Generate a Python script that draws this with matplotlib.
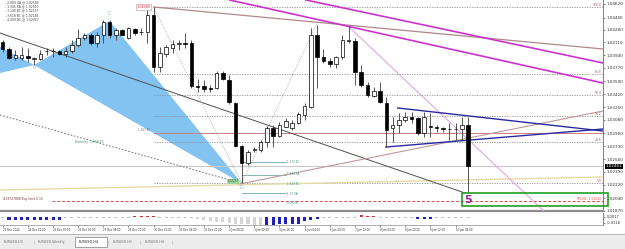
import numpy as np
import matplotlib.pyplot as plt
from matplotlib.patches import Rectangle, Polygon

# EURUSD H4 candles, bar 0 = 23 Dec 2024
opens = [1.04115, 1.04028, 1.03902, 1.03896, 1.03929, 1.03889, 1.03889, 1.03989, 1.03989, 1.03995,
         1.03955, 1.03995, 1.04075, 1.04168, 1.04208, 1.04106, 1.04208, 1.04381, 1.04208, 1.04274,
         1.04168, 1.04281, 1.04248, 1.04252, 1.04474, 1.03787, 1.03955, 1.04039, 1.04092, 1.04106,
         1.04098, 1.03530, 1.03530, 1.03499, 1.03499, 1.03707, 1.03610, 1.03308, 1.02733, 1.02503,
         1.02679, 1.02679, 1.02790, 1.02968, 1.02866, 1.02989, 1.02968, 1.03042, 1.03145, 1.03255,
         1.04208, 1.03919, 1.03866, 1.03822, 1.03911, 1.04132, 1.04132, 1.03720, 1.03543, 1.03401,
         1.03468, 1.03308, 1.02968, 1.03012, 1.03078, 1.03122, 1.03101, 1.02901, 1.02998, 1.02981,
         1.02968, 1.02963, 1.02959, 1.02955, 1.03012]
highs = [1.04141, 1.04055, 1.04008, 1.04048, 1.04035, 1.03915, 1.04008, 1.04035, 1.04035, 1.04008,
         1.04052, 1.04141, 1.04288, 1.04234, 1.04234, 1.04252, 1.04407, 1.04407, 1.04301, 1.04281,
         1.04318, 1.04305, 1.04301, 1.04549, 1.04580, 1.04052, 1.04075, 1.04141, 1.04141, 1.04234,
         1.04141, 1.03623, 1.03610, 1.03543, 1.03733, 1.03733, 1.03676, 1.03321, 1.02746, 1.02679,
         1.02723, 1.02812, 1.02998, 1.03012, 1.03056, 1.03101, 1.03078, 1.03189, 1.03300, 1.04297,
         1.04341, 1.04018, 1.03898, 1.03929, 1.04208, 1.04331, 1.04164, 1.03809, 1.03587, 1.03513,
         1.03587, 1.03388, 1.03122, 1.03167, 1.03189, 1.03189, 1.03122, 1.03189, 1.03167, 1.03012,
         1.02989, 1.03034, 1.03034, 1.03122, 1.03122]
lows = [1.03982, 1.03889, 1.03876, 1.03882, 1.03849, 1.03809, 1.03876, 1.03942, 1.03915, 1.03942,
        1.03915, 1.03969, 1.04048, 1.04141, 1.04075, 1.04052, 1.04102, 1.04168, 1.04141, 1.04208,
        1.04155, 1.04208, 1.04208, 1.04102, 1.03716, 1.03720, 1.03919, 1.03969, 1.04008, 1.04035,
        1.03503, 1.03450, 1.03454, 1.03454, 1.03486, 1.03610, 1.03291, 1.02723, 1.02237, 1.02480,
        1.02653, 1.02657, 1.02723, 1.02723, 1.02848, 1.02981, 1.02945, 1.03025, 1.03078, 1.03234,
        1.03499, 1.03832, 1.03787, 1.03765, 1.03885, 1.04102, 1.03543, 1.03521, 1.03388, 1.03388,
        1.03300, 1.02723, 1.02790, 1.02901, 1.03056, 1.03034, 1.02879, 1.02856, 1.02856, 1.02923,
        1.02923, 1.02812, 1.02812, 1.02812, 1.02108]
closes = [1.04022, 1.03902, 1.03942, 1.03942, 1.03896, 1.03902, 1.03955, 1.03995, 1.03995, 1.03955,
          1.03999, 1.04075, 1.04168, 1.04214, 1.04102, 1.04208, 1.04385, 1.04208, 1.04274, 1.04208,
          1.04301, 1.04234, 1.04244, 1.04474, 1.03787, 1.03965, 1.04052, 1.04084, 1.04102, 1.04088,
          1.03530, 1.03523, 1.03490, 1.03490, 1.03699, 1.03619, 1.03321, 1.02733, 1.02503, 1.02657,
          1.02689, 1.02790, 1.02968, 1.02866, 1.03012, 1.03069, 1.03042, 1.03158, 1.03264, 1.04208,
          1.03919, 1.03866, 1.03822, 1.03911, 1.04141, 1.04141, 1.03720, 1.03543, 1.03410, 1.03468,
          1.03321, 1.02945, 1.03012, 1.03078, 1.03122, 1.03091, 1.02901, 1.03122, 1.02981, 1.02972,
          1.02955, 1.02959, 1.02963, 1.03012, 1.02463]

# indicator histogram (sub window)
ind_vals = [-0.0010, -0.0050, -0.0050, -0.0050, -0.0050, -0.0050, -0.0050, -0.0050, -0.0050, -0.0050,
            -0.0010, -0.0010, -0.0010, -0.0010, -0.0010, -0.0010, -0.0010, -0.0010, -0.0010, -0.0010,
            -0.0010, 0.0030, 0.0035, 0.0035, 0.0030, -0.0012, -0.0012, -0.0012, -0.0012, -0.0012,
            -0.0012, -0.0040, -0.0060, -0.0080, -0.0090, -0.0100, -0.0120, -0.0135, -0.0150, -0.0150,
            -0.0155, -0.0155, -0.0155, -0.0155, -0.0150, -0.0150, -0.0140, -0.0130, -0.0080, -0.0060,
            -0.0040, -0.0012, -0.0012, -0.0012, -0.0012, -0.0012, -0.0012, 0.0045, 0.0030, 0.0025,
            -0.0012, -0.0012, -0.0012, -0.0012, -0.0012, -0.0012, -0.0040, -0.0040, -0.0040, -0.0012,
            -0.0012, -0.0012, -0.0012, -0.0012, -0.0012]
ind_kind = ['g'] + ['b'] * 9 + ['g'] * 11 + ['r'] * 4 + ['g'] * 6 + ['l'] * 11 + ['b'] * 9 \
           + ['g'] * 6 + ['r'] * 3 + ['g'] * 6 + ['b'] * 3 + ['g'] * 6

price_ticks = [1.04620, 1.04440, 1.04280, 1.04110, 1.03940, 1.03770, 1.03590, 1.03420, 1.03250,
               1.03080, 1.02900, 1.02730, 1.02560, 1.02390, 1.02220, 1.02040, 1.01870]
time_ticks = [0, 4, 8, 12, 16, 20, 24, 28, 32, 36, 40, 44, 48, 52, 56, 60, 64, 68, 72]
time_labels = ['23 Dec 2024', '24 Dec 12:00', '26 Dec 00:00', '26 Dec 16:00', '27 Dec 08:00',
               '29 Dec 20:00', '30 Dec 12:00', '31 Dec 04:00', '31 Dec 20:00', '2 Jan 08:00',
               '3 Jan 00:00', '3 Jan 16:00', '6 Jan 04:00', '6 Jan 20:00', '7 Jan 12:00',
               '8 Jan 04:00', '8 Jan 20:00', '9 Jan 12:00', '10 Jan 04:00']

# butterfly X A B C D (bar, price)
pat_bar = [-6.8, -2.8, 5, 17, 38]
pat_price = [1.03578, 1.04155, 1.03809, 1.04394, 1.02237]

# fibonacci from swing high to D
fib_start = 24
fib_hi, fib_lo = 1.04580, 1.02237
fib_levels = [0.0, 23.6, 38.2, 50.0, 61.8, 100.0]

# trend lines: (bars, prices)
tl_gray = ([-0.43, 73.5], [1.04234, 1.02108])
tl_dash = ([-0.43, 38], [1.03145, 1.02237])
tl_zz1 = ([24, 38], [1.04580, 1.02237])
tl_zz2 = ([38, 50], [1.02237, 1.04367])
tl_pink = ([54.9, 86.2], [1.04327, 1.01855])
tl_brown = ([24, 95.44], [1.04580, 1.04022])
tl_mag1 = ([48.2, 95.44], [1.04673, 1.03836])
tl_mag2 = ([36.1, 95.44], [1.04673, 1.03570])
tl_tri_up = ([62.8, 95.44], [1.03238, 1.02932])
tl_tri_lo = ([60.9, 95.44], [1.02719, 1.02959])
tl_rise = ([37.7, 95.44], [1.02228, 1.03198])
tl_pale = ([-0.43, 95.44], [1.02148, 1.02321])

level_red = 1.02905
order_price = 1.02008
proj_prices = [1.02520, 1.02347, 1.02108]
proj_text = [(1.02520, '1.272 BC'), (1.02360, '1.414 XA'), (1.02228, '1.618 BC'),
             (1.02095, '1.27 XA'), (1.01975, '4.000 BC')]
zone_bars = [73.0, 96.2]
zone_prices = [1.01935, 1.02104]

W, H = 625, 249
fig = plt.figure(figsize=(6.25, 2.49), dpi=100)
ax = fig.add_axes([0, 38 / H, 603 / W, 211 / H])
ax.set_xlim(-0.43, 95.44)
ax.set_ylim(1.01869, 1.04673)

x = np.arange(len(opens))
o, hi, lo, c = map(np.array, (opens, highs, lows, closes))

# pattern fill
ax.add_patch(Polygon(list(zip(pat_bar[:3], pat_price[:3])), closed=True, fc='#82c3f2', ec='none', zorder=1))
ax.add_patch(Polygon(list(zip(pat_bar[2:], pat_price[2:])), closed=True, fc='#82c3f2', ec='none', zorder=1))

# fib levels
for r in fib_levels:
    p = fib_lo + r / 100 * (fib_hi - fib_lo)
    ax.plot([fib_start, 95.44], [p, p], color='#909090', lw=0.6, ls=(0, (1.5, 1.5)), zorder=2)
    ax.text(95.2, p, '%.1f' % r, fontsize=2.2, color='#b05050', ha='right', va='bottom', zorder=6)

ax.plot([fib_start, 95.44], [level_red, level_red], color='#c88080', lw=0.7, zorder=2)
ax.axhline(closes[-1], color='#c8c8c8', lw=0.8, zorder=2)
ax.plot([7.8, 95.44], [order_price, order_price], color='#e04848', lw=0.7, ls=(0, (3, 2)), zorder=2)
for p in proj_prices:
    ax.plot([38, 45], [p, p], color='#70a8a8', lw=0.6, zorder=2)

ax.plot(*tl_pale, color='#e6dca6', lw=1.0, zorder=2)
ax.plot(*tl_gray, color='#505050', lw=0.7, zorder=3)
ax.plot(*tl_dash, color='#606060', lw=0.6, ls=(0, (2, 2)), zorder=3)
ax.plot(*tl_zz1, color='#a0a0a0', lw=0.6, ls=(0, (1, 1.5)), zorder=3)
ax.plot(*tl_zz2, color='#a0a0a0', lw=0.6, ls=(0, (1, 1.5)), zorder=3)
ax.plot(*tl_pink, color='#e0a6e0', lw=0.8, zorder=3)
ax.plot(*tl_brown, color='#b08888', lw=0.9, zorder=3)
ax.plot(*tl_mag1, color='#cc33cc', lw=1.2, zorder=3)
ax.plot(*tl_mag2, color='#cc33cc', lw=1.2, zorder=3)
ax.plot(*tl_rise, color='#c09898', lw=0.8, zorder=3)
ax.plot(*tl_tri_up, color='#2a2aa0', lw=1.0, zorder=3)
ax.plot(*tl_tri_lo, color='#2a2aa0', lw=1.0, zorder=3)

# candles
up = c >= o
ax.vlines(x, lo, hi, color='#3a3a3a', lw=0.6, zorder=4)
bottom = np.minimum(o, c)
height = np.maximum(np.abs(c - o), 0.00003)
ax.bar(x[up], height[up], bottom=bottom[up], width=0.56, color='white', edgecolor='black', lw=0.5, zorder=5)
ax.bar(x[~up], height[~up], bottom=bottom[~up], width=0.56, color='black', edgecolor='black', lw=0.5, zorder=5)

# zone + wave label
ax.add_patch(Rectangle((zone_bars[0], zone_prices[0]), zone_bars[1] - zone_bars[0],
                       zone_prices[1] - zone_prices[0], fill=False, ec='#22a022', lw=1.2,
                       clip_on=False, zorder=6))
ax.text(74, 1.02018, '5', fontsize=8, color='#a02890', ha='center', va='center', fontweight='bold', zorder=7)

# labels
lbl_col = '#8cb8e0'
ax.text(pat_bar[2], pat_price[2] - 0.00035, 'B', fontsize=3.5, color=lbl_col, ha='center', va='center', zorder=6)
ax.text(pat_bar[3], pat_price[3] + 0.00105, 'C', fontsize=3.5, color=lbl_col, ha='center', va='center', zorder=6)
ax.text(pat_bar[4], pat_price[4] - 0.00060, 'D', fontsize=3.5, color=lbl_col, ha='center', va='center', zorder=6)
ax.text(pat_bar[4] - 0.5, pat_price[4], '1.02237', fontsize=2, color='#306030', ha='right', va='bottom',
        bbox=dict(fc='#9ad49a', ec='none', pad=0.3), zorder=6)
ax.text(22.4, fib_hi, '1.04580', fontsize=2.4, color='#c03040', ha='center', va='center',
        bbox=dict(fc='white', ec='#e0a0b0', lw=0.5, pad=0.4), zorder=6)
ax.text(23.5, level_red + 0.0001, '1.617 BC', fontsize=2, color='#606060', ha='right', va='bottom', zorder=6)
ax.text(11.5, 1.02780, 'Butterfly - 3368.03', fontsize=2.2, color='#40a060', ha='left', va='center', zorder=6)
for p, t in proj_text:
    ax.text(45.2, p, t, fontsize=2, color='#508888', ha='left', va='center', zorder=6)
ax.text(0.0, order_price + 0.0002, '#19727888 Buy limit 0.10', fontsize=2.2, color='#703838', ha='left', va='center', zorder=6)
ax.text(95.2, order_price + 0.0002, 'TP1,ML: 1.02040', fontsize=2.2, color='#e05050', ha='right', va='center', zorder=6)

tl_text = ['- 2.000 XA @ 1.02580', '- 1.345 XA @ 1.02510', '- 3.140 BC @ 1.02137',
           '- 3.618 BC @ 1.02148', '- 4.000 BC @ 1.02057']
for i, t in enumerate(tl_text):
    fig.text(5 / W, 1 - (2.0 + 4.4 * i) / H, t, fontsize=2.2, color='#404040', va='center')

# price axis
ax.yaxis.tick_right()
ax.set_yticks(price_ticks)
ax.set_yticklabels(['%.5f' % p for p in price_ticks])
ax.tick_params(axis='y', labelsize=3, length=1.5, width=0.4, pad=1.2, colors='#303030')
ax.set_xticks([])
for s in ['left', 'top']:
    ax.spines[s].set_visible(False)
ax.spines['right'].set_color('#808080')
ax.spines['right'].set_linewidth(0.7)
ax.spines['bottom'].set_color('#8c8c8c')
ax.spines['bottom'].set_linewidth(1.6)
ax.text(1.004, closes[-1], '%.5f' % closes[-1], transform=ax.get_yaxis_transform(), fontsize=3,
        color='white', ha='left', va='center', bbox=dict(fc='black', ec='none', pad=0.4), clip_on=False, zorder=8)

# indicator window
axi = fig.add_axes([0, 24 / H, 603 / W, 12 / H])
axi.set_xlim(-0.43, 95.44)
axi.set_ylim(-0.0161, 0.00965)
kind_col = {'b': '#2020c0', 'g': '#c4c4c4', 'r': '#d03030', 'l': '#d6d6d6'}
axi.bar(x, ind_vals, width=0.48, color=[kind_col[k] for k in ind_kind], lw=0)
axi.yaxis.tick_right()
axi.set_yticks([0.0017, -0.0118])
axi.set_yticklabels(['0.0017', '-0.0118'])
axi.tick_params(axis='y', labelsize=2.6, length=1.2, width=0.4, pad=1.2, colors='#303030')
axi.set_xticks(time_ticks)
axi.set_xticklabels(time_labels, ha='left')
axi.tick_params(axis='x', labelsize=1.9, length=1.5, width=0.4, pad=0.6, colors='#303030')
for s in ['left', 'top']:
    axi.spines[s].set_visible(False)
axi.spines['right'].set_color('#808080')
axi.spines['right'].set_linewidth(0.7)
axi.spines['bottom'].set_color('#a0a0a0')
axi.spines['bottom'].set_linewidth(0.6)

# tab bar
fig.patches.append(Rectangle((0, 0), 1, 15 / H, transform=fig.transFigure, fc='#ececec', ec='none', zorder=0))
fig.lines.append(plt.Line2D([0, 1], [15 / H, 15 / H], transform=fig.transFigure, color='#b0b0b0', lw=0.6))
fig.patches.append(Rectangle((75 / W, 2 / H), 32 / W, 10 / H, transform=fig.transFigure, fc='white',
                             ec='#808080', lw=0.5, zorder=1))
tabs = [(4, 'EURUSD,H1'), (38, 'EURUSD,Weekly'), (79, 'EURUSD,H4'), (113, 'EURUSD,H1'), (145, 'EURUSD,H4')]
for tx, t in tabs:
    fig.text(tx / W, 7 / H, t, fontsize=2.4, color='#202020' if t == 'EURUSD,H4' and tx == 79 else '#707070',
             va='center', zorder=2)
for sx in [33, 108, 140, 172]:
    fig.text(sx / W, 7 / H, '|', fontsize=2.8, color='#a0a0a0', va='center')

fig.savefig('out.png', dpi=100)
